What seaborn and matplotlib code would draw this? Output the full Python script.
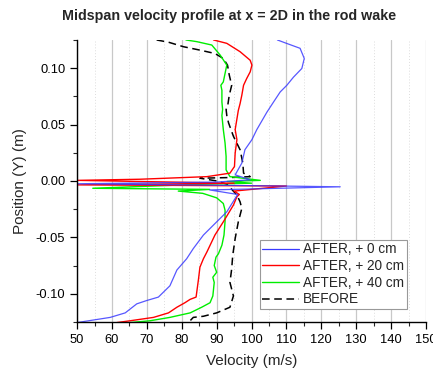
import matplotlib
matplotlib.use("Agg")
import matplotlib.pyplot as plt
import seaborn as sns
import pandas as pd
from matplotlib.ticker import MultipleLocator

sns.set_style("ticks")
plt.rcParams['font.family'] = ['Liberation Sans', 'DejaVu Sans']

# ---- data (velocity m/s, position m), ordered top to bottom ----
blue_vel = [107.4, 110, 113.9, 115.1, 114.4, 112, 110.1, 108.2, 106.3, 104.4, 101.5, 100.1, 98.1, 97.2, 95.3,
            99.6, 90, 50, 95, 125.4, 88, 96, 95.3, 92.9, 90.0, 86.2, 83.3, 81.4, 78.6, 76.6, 73.3, 70, 67.1,
            63.8, 59.5, 50]
blue_pos = [0.125, 0.122, 0.1176, 0.1086, 0.0997, 0.092, 0.0848, 0.0789, 0.070, 0.061, 0.0455, 0.0366, 0.0277,
            0.0158, 0.0054, 0.001, -0.001, -0.0025, -0.004, -0.0052, -0.008, -0.012, -0.0155, -0.0274, -0.0363,
            -0.048, -0.060, -0.069, -0.079, -0.093, -0.103, -0.106, -0.109, -0.117, -0.121, -0.1256]

red_vel = [89.1, 92.9, 96.7, 99.6, 100.1, 99.6, 98.6, 97.7, 97.2, 96.7, 96.2, 95.3, 95.8, 95.3, 95.1, 93.8, 87.2,
           68, 50, 95, 50, 110, 95, 96.5, 95.8, 94.8, 91.9, 89.5, 87.2, 86.2, 85.2, 84.8, 84.1, 82.4, 80.9, 78.6,
           76.2, 71.9, 65.2, 61.4]
red_pos = [0.125, 0.122, 0.1146, 0.107, 0.1027, 0.0967, 0.0908, 0.0848, 0.0759, 0.0685, 0.0625, 0.0455, 0.0366,
           0.0247, 0.0128, 0.0069, 0.0038, 0.0015, 0.0005, -0.002, -0.0035, -0.0045, -0.009, -0.012, -0.014,
           -0.0214, -0.0363, -0.048, -0.063, -0.069, -0.0765, -0.0869, -0.103, -0.105, -0.108, -0.112, -0.117,
           -0.121, -0.124, -0.1256]

green_vel = [81.2, 84.3, 88.6, 91, 92.9, 92.4, 91.9, 91.2, 91.5, 91.5, 91.7, 91.5, 91.9, 92.4, 92.7, 92.7, 93.8,
             102.5, 93, 100, 85, 54.5, 88, 79, 86, 90, 91.9, 92.4, 92.4, 92.1, 91.5, 90.5, 89.8, 89.3, 90, 88.9,
             89.3, 88.9, 88.1, 85.7, 82.4, 76.6, 70.9, 65.2]
green_pos = [0.125, 0.1235, 0.1205, 0.1116, 0.1027, 0.0953, 0.0878, 0.0848, 0.0804, 0.070, 0.0634, 0.058, 0.0455,
             0.0337, 0.0217, 0.0098, 0.0038, 0.0005, -0.0005, -0.002, -0.003, -0.0065, -0.0075, -0.009, -0.011,
             -0.015, -0.020, -0.026, -0.036, -0.048, -0.057, -0.0646, -0.0676, -0.075, -0.081, -0.0854, -0.090,
             -0.102, -0.108, -0.112, -0.117, -0.121, -0.124, -0.1256]

before_vel = [72.8, 76.2, 80.5, 85.2, 89.5, 91.9, 93.1, 93.6, 94.3, 93.6, 93.1, 92.7, 92.9, 93.4, 94.8, 96.7, 97.5,
              97.7, 99.6, 93.8, 85.2, 90, 93, 95.8, 96.7, 97.2, 96.2, 95.3, 94.6, 94.3, 93.8, 94.8, 93.8, 90, 86.2,
              83.3, 81.9]
before_pos = [0.125, 0.123, 0.119, 0.116, 0.113, 0.1086, 0.1027, 0.094, 0.0848, 0.0759, 0.0654, 0.0634, 0.058,
              0.0515, 0.0396, 0.0277, 0.0158, 0.0069, 0.0038, 0.003, 0.0024, 0.0, -0.003, -0.0125, -0.0185, -0.0244,
              -0.0363, -0.051, -0.066, -0.078, -0.090, -0.102, -0.112, -0.117, -0.120, -0.121, -0.1256]

series_labels = ["AFTER, + 0 cm", "AFTER, + 20 cm", "AFTER, + 40 cm", "BEFORE"]
x_ticks = [50, 60, 70, 80, 90, 100, 110, 120, 130, 140, 150]
y_ticks = [-0.10, -0.05, 0.00, 0.05, 0.10]

# ---- figure ----
fig = plt.figure(figsize=(4.33, 3.70), dpi=100)
ax = fig.add_axes([0.178, 0.130, 0.806, 0.762])

ax.set_xlim(50, 150)
ax.set_ylim(-0.125, 0.125)
ax.xaxis.set_major_locator(MultipleLocator(10))
ax.xaxis.set_minor_locator(MultipleLocator(5))
ax.yaxis.set_major_locator(MultipleLocator(0.05))
ax.yaxis.set_minor_locator(MultipleLocator(0.025))
ax.grid(True, axis='x', which='major', color='#c8c8c8', linewidth=0.9, linestyle='-')
ax.grid(True, axis='x', which='minor', color='#dddddd', linewidth=0.7, linestyle=(0, (1, 2)))
ax.set_axisbelow(True)

specs = [
    (before_vel, before_pos, series_labels[3], 'black', (0, (5, 3)), 1.1, 1.0),
    (green_vel, green_pos, series_labels[2], '#00ee00', '-', 1.0, 1.0),
    (red_vel, red_pos, series_labels[1], '#ff0000', '-', 1.0, 1.0),
    (blue_vel, blue_pos, series_labels[0], '#3a3aff', '-', 0.9, 0.85),
]
for vel, pos, lab, col, ls, lw, al in specs:
    df = pd.DataFrame({"Velocity": vel, "Position": pos})
    sns.lineplot(data=df, x="Velocity", y="Position", sort=False, estimator=None, ax=ax,
                 color=col, linestyle=ls, linewidth=lw, alpha=al, label=lab)

h, l = ax.get_legend_handles_labels()
order = [l.index(s) for s in series_labels]
leg = ax.legend([h[i] for i in order], [l[i] for i in order], loc='lower right',
                bbox_to_anchor=(0.945, 0.045), fontsize=9.8, frameon=True, fancybox=False,
                edgecolor='#999999', framealpha=1, borderpad=0.2, labelspacing=0.2,
                handlelength=2.7, handletextpad=0.3, borderaxespad=0)
leg.get_frame().set_linewidth(0.8)
for lh in leg.get_lines():
    lh.set_alpha(1)

ax.set_xticks(x_ticks)
ax.set_xticklabels([str(v) for v in x_ticks])
ax.set_yticks(y_ticks)
ax.set_yticklabels([f"{v:.2f}" for v in y_ticks])
ax.tick_params(axis='both', which='major', direction='out', length=5, width=0.9, labelsize=9.3, colors='black')
ax.tick_params(axis='both', which='minor', direction='out', length=3, width=0.8)
for s in ['top', 'right']:
    ax.spines[s].set_visible(False)
for s in ['left', 'bottom']:
    ax.spines[s].set_color('black')
    ax.spines[s].set_linewidth(1.0)

ax.set_xlabel("Velocity (m/s)", fontsize=11, labelpad=6)
ax.set_ylabel("Position (Y) (m)", fontsize=11, labelpad=6)
fig.suptitle("Midspan velocity profile at x = 2D in the rod wake", x=0.53, y=0.975,
             fontsize=10.3, fontweight='bold')

fig.savefig("out.png", dpi=100)
